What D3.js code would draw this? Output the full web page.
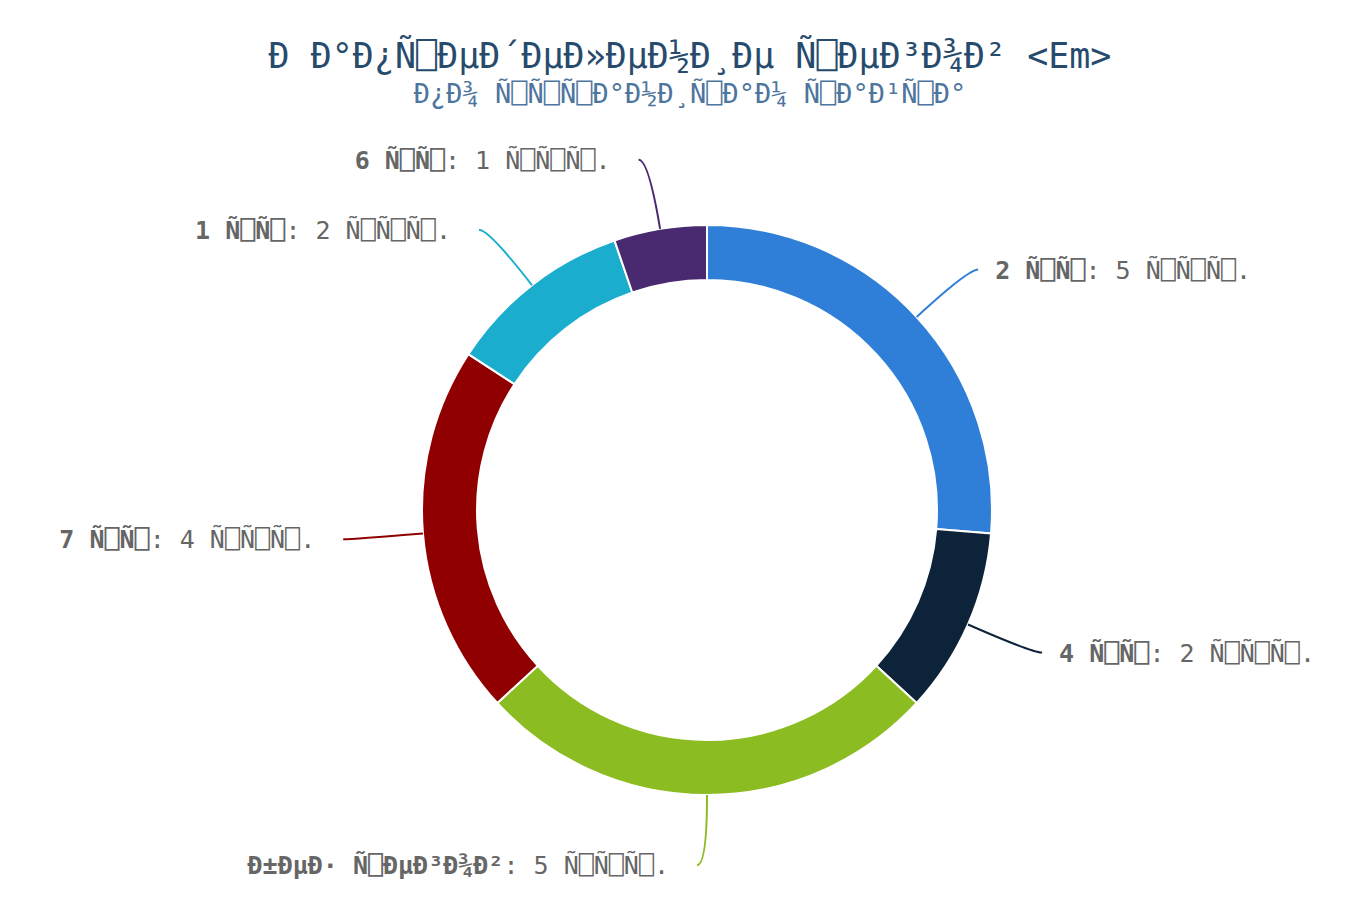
<!DOCTYPE html>
<html lang="en">
<head>
    <meta charset="UTF-8">
    <title>Pie</title>
    <script src="https://d3js.org/d3.v7.min.js"></script>
    <style>
        body { margin: 0; background: #fff; }
        text { font-family: "DejaVu Sans Mono", monospace; }
        .slice { stroke: white; stroke-width: 2; }
        .conn { fill: none; stroke-width: 2; }
    </style>
</head>
<body>
<script>
    const width  = 1370;
    const height = 916;

    const categories = ["2 шт", "4 шт", "без тегов", "7 шт", "1 шт", "6 шт"];
    const values     = [5, 2, 5, 4, 2, 1];
    const unit       = "тыс.";
    const colors     = ["#2f7ed8", "#0d233a", "#8bbc21", "#910000", "#1aadce", "#492970"];
    const titleText    = "Рапределение тегов <Em>";
    const subtitleText = "по страницам сайта";

    // text shown as utf-8 bytes read as latin-1, like the original;
    // the unprintable bytes show up as empty boxes there
    const garble = s => Array.from(new TextEncoder().encode(s),
        b => (b >= 0x80 && b < 0xa0) ? "\u2395" : String.fromCharCode(b)).join("");

    const cx = 707, cy = 510, rOut = 285, rIn = 230;

    const svg = d3.select("body").append("svg").attr("width", width).attr("height", height);

    svg.append("text").attr("x", 690).attr("y", 68)
       .attr("text-anchor", "middle").attr("fill", "#274b6d").style("font-size", "35px")
       .text(garble(titleText));
    svg.append("text").attr("x", 690).attr("y", 103)
       .attr("text-anchor", "middle").attr("fill", "#4d759e").style("font-size", "27px")
       .text(garble(subtitleText));

    const pie = d3.pie().sort(null).value(d => d);
    const arcs = pie(values);
    const arc = d3.arc().innerRadius(rIn).outerRadius(rOut);

    const g = svg.append("g").attr("transform", `translate(${cx},${cy})`);

    g.selectAll("path.slice")
        .data(arcs)
        .join("path").attr("class", "slice")
        .attr("d", arc)
        .attr("fill", (d, i) => colors[i]);

    const pt = (a, r) => [r * Math.sin(a), -r * Math.cos(a)];

    arcs.forEach((d, i) => {
        const mid = (d.startAngle + d.endAngle) / 2;
        const left = mid >= Math.PI - 1e-6;
        const s = pt(mid, rOut);
        const c = pt(mid, rOut + 70);
        const e = [c[0] + (left ? -10 : 10), c[1]];
        g.append("path").attr("class", "conn")
            .attr("stroke", colors[i])
            .attr("d", `M${s[0]},${s[1]} Q${c[0]},${c[1]} ${e[0]},${e[1]}`);
        const t = g.append("text")
            .attr("x", e[0] + (left ? -28 : 17))
            .attr("y", e[1] + 9)
            .attr("text-anchor", left ? "end" : "start")
            .attr("fill", "#666666")
            .style("font-size", "25px");
        t.append("tspan").attr("font-weight", "bold").text(garble(categories[i]));
        t.append("tspan").text(garble(": " + values[i] + " " + unit));
    });
</script>
</body>
</html>
